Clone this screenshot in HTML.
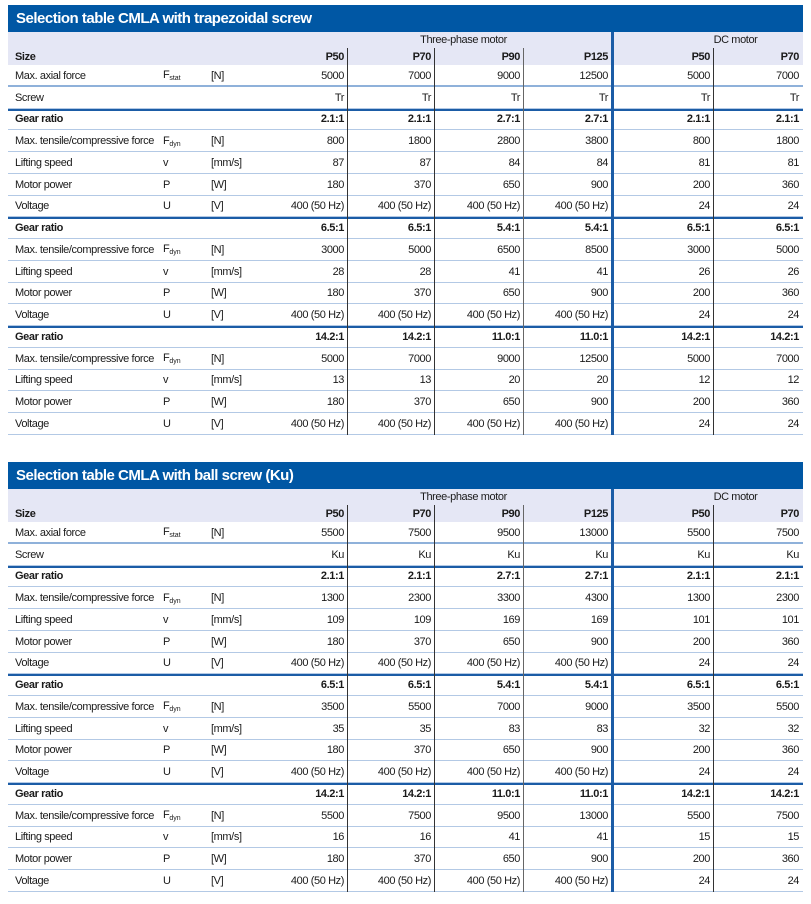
<!DOCTYPE html>
<html><head><meta charset="utf-8"><style>
body{margin:0;width:811px;height:904px;background:#fff;position:relative;overflow:hidden;font-family:"Liberation Sans",sans-serif;color:#1a1a1a}
.wrap{position:absolute;left:8px;width:795px}
.title{height:27px;background:#0057a4;color:#fff;font-weight:bold;font-size:15px;letter-spacing:-0.5px;line-height:27px;padding-left:8px;box-sizing:border-box}
table{border-collapse:separate;border-spacing:0;table-layout:fixed;width:795px;font-size:11px;letter-spacing:-0.4px}
td{height:21.76px;padding:0;white-space:nowrap;box-shadow:inset 0 -1px #b3c9e5;vertical-align:middle;overflow:hidden}
td.n{text-align:right;padding-right:4px}
td.l{padding-left:7px}
tr.h td{background:#e5e7f5;box-shadow:none}
tr.h1 td{height:16px;vertical-align:middle}
tr.h2 td{height:17px;font-weight:bold}
tr.ax td{box-shadow:inset 0 -2px #8fb1da}
tr.g td{font-weight:bold;box-shadow:inset 0 2px #1b5ca6,inset 0 -1px #b3c9e5}
sub{font-size:7px;vertical-align:-2px;letter-spacing:0}
.v{position:absolute;width:1px;background:#333}
.vb{position:absolute;width:3px;background:#1b5ca6}
</style></head><body>

<div class="wrap" style="top:5px">
<div class="title">Selection table CMLA with trapezoidal screw</div>
<table>
<colgroup><col style="width:155px"><col style="width:48px"><col style="width:48px"><col style="width:89px"><col style="width:87px"><col style="width:89px"><col style="width:88px"><col style="width:102px"><col style="width:89px"></colgroup>
<tr class="h h1"><td></td><td></td><td></td><td colspan="4" style="text-align:center;padding-left:56px">Three-phase motor</td><td colspan="2" style="text-align:center;padding-left:56px">DC motor</td></tr>
<tr class="h h2"><td class="l">Size</td><td></td><td></td><td class="n">P50</td><td class="n">P70</td><td class="n">P90</td><td class="n">P125</td><td class="n">P50</td><td class="n">P70</td></tr>
<tr class="ax"><td class="l">Max. axial force</td><td>F<sub>stat</sub></td><td>[N]</td><td class="n">5000</td><td class="n">7000</td><td class="n">9000</td><td class="n">12500</td><td class="n">5000</td><td class="n">7000</td></tr>
<tr><td class="l">Screw</td><td></td><td></td><td class="n">Tr</td><td class="n">Tr</td><td class="n">Tr</td><td class="n">Tr</td><td class="n">Tr</td><td class="n">Tr</td></tr>
<tr class="g"><td class="l">Gear ratio</td><td></td><td></td><td class="n">2.1:1</td><td class="n">2.1:1</td><td class="n">2.7:1</td><td class="n">2.7:1</td><td class="n">2.1:1</td><td class="n">2.1:1</td></tr>
<tr><td class="l">Max. tensile/compressive force</td><td>F<sub>dyn</sub></td><td>[N]</td><td class="n">800</td><td class="n">1800</td><td class="n">2800</td><td class="n">3800</td><td class="n">800</td><td class="n">1800</td></tr>
<tr><td class="l">Lifting speed</td><td>v</td><td>[mm/s]</td><td class="n">87</td><td class="n">87</td><td class="n">84</td><td class="n">84</td><td class="n">81</td><td class="n">81</td></tr>
<tr><td class="l">Motor power</td><td>P</td><td>[W]</td><td class="n">180</td><td class="n">370</td><td class="n">650</td><td class="n">900</td><td class="n">200</td><td class="n">360</td></tr>
<tr><td class="l">Voltage</td><td>U</td><td>[V]</td><td class="n">400 (50 Hz)</td><td class="n">400 (50 Hz)</td><td class="n">400 (50 Hz)</td><td class="n">400 (50 Hz)</td><td class="n">24</td><td class="n">24</td></tr>
<tr class="g"><td class="l">Gear ratio</td><td></td><td></td><td class="n">6.5:1</td><td class="n">6.5:1</td><td class="n">5.4:1</td><td class="n">5.4:1</td><td class="n">6.5:1</td><td class="n">6.5:1</td></tr>
<tr><td class="l">Max. tensile/compressive force</td><td>F<sub>dyn</sub></td><td>[N]</td><td class="n">3000</td><td class="n">5000</td><td class="n">6500</td><td class="n">8500</td><td class="n">3000</td><td class="n">5000</td></tr>
<tr><td class="l">Lifting speed</td><td>v</td><td>[mm/s]</td><td class="n">28</td><td class="n">28</td><td class="n">41</td><td class="n">41</td><td class="n">26</td><td class="n">26</td></tr>
<tr><td class="l">Motor power</td><td>P</td><td>[W]</td><td class="n">180</td><td class="n">370</td><td class="n">650</td><td class="n">900</td><td class="n">200</td><td class="n">360</td></tr>
<tr><td class="l">Voltage</td><td>U</td><td>[V]</td><td class="n">400 (50 Hz)</td><td class="n">400 (50 Hz)</td><td class="n">400 (50 Hz)</td><td class="n">400 (50 Hz)</td><td class="n">24</td><td class="n">24</td></tr>
<tr class="g"><td class="l">Gear ratio</td><td></td><td></td><td class="n">14.2:1</td><td class="n">14.2:1</td><td class="n">11.0:1</td><td class="n">11.0:1</td><td class="n">14.2:1</td><td class="n">14.2:1</td></tr>
<tr><td class="l">Max. tensile/compressive force</td><td>F<sub>dyn</sub></td><td>[N]</td><td class="n">5000</td><td class="n">7000</td><td class="n">9000</td><td class="n">12500</td><td class="n">5000</td><td class="n">7000</td></tr>
<tr><td class="l">Lifting speed</td><td>v</td><td>[mm/s]</td><td class="n">13</td><td class="n">13</td><td class="n">20</td><td class="n">20</td><td class="n">12</td><td class="n">12</td></tr>
<tr><td class="l">Motor power</td><td>P</td><td>[W]</td><td class="n">180</td><td class="n">370</td><td class="n">650</td><td class="n">900</td><td class="n">200</td><td class="n">360</td></tr>
<tr><td class="l">Voltage</td><td>U</td><td>[V]</td><td class="n">400 (50 Hz)</td><td class="n">400 (50 Hz)</td><td class="n">400 (50 Hz)</td><td class="n">400 (50 Hz)</td><td class="n">24</td><td class="n">24</td></tr>
</table>
<div class="v" style="left:339px;top:43px;height:387px"></div>
<div class="v" style="left:426px;top:43px;height:387px"></div>
<div class="v" style="left:515px;top:43px;height:387px;background:#666"></div>
<div class="vb" style="left:603px;top:27px;height:403px"></div>
<div class="v" style="left:705px;top:43px;height:387px"></div>
</div>

<div class="wrap" style="top:462px">
<div class="title">Selection table CMLA with ball screw (Ku)</div>
<table>
<colgroup><col style="width:155px"><col style="width:48px"><col style="width:48px"><col style="width:89px"><col style="width:87px"><col style="width:89px"><col style="width:88px"><col style="width:102px"><col style="width:89px"></colgroup>
<tr class="h h1"><td></td><td></td><td></td><td colspan="4" style="text-align:center;padding-left:56px">Three-phase motor</td><td colspan="2" style="text-align:center;padding-left:56px">DC motor</td></tr>
<tr class="h h2"><td class="l">Size</td><td></td><td></td><td class="n">P50</td><td class="n">P70</td><td class="n">P90</td><td class="n">P125</td><td class="n">P50</td><td class="n">P70</td></tr>
<tr class="ax"><td class="l">Max. axial force</td><td>F<sub>stat</sub></td><td>[N]</td><td class="n">5500</td><td class="n">7500</td><td class="n">9500</td><td class="n">13000</td><td class="n">5500</td><td class="n">7500</td></tr>
<tr><td class="l">Screw</td><td></td><td></td><td class="n">Ku</td><td class="n">Ku</td><td class="n">Ku</td><td class="n">Ku</td><td class="n">Ku</td><td class="n">Ku</td></tr>
<tr class="g"><td class="l">Gear ratio</td><td></td><td></td><td class="n">2.1:1</td><td class="n">2.1:1</td><td class="n">2.7:1</td><td class="n">2.7:1</td><td class="n">2.1:1</td><td class="n">2.1:1</td></tr>
<tr><td class="l">Max. tensile/compressive force</td><td>F<sub>dyn</sub></td><td>[N]</td><td class="n">1300</td><td class="n">2300</td><td class="n">3300</td><td class="n">4300</td><td class="n">1300</td><td class="n">2300</td></tr>
<tr><td class="l">Lifting speed</td><td>v</td><td>[mm/s]</td><td class="n">109</td><td class="n">109</td><td class="n">169</td><td class="n">169</td><td class="n">101</td><td class="n">101</td></tr>
<tr><td class="l">Motor power</td><td>P</td><td>[W]</td><td class="n">180</td><td class="n">370</td><td class="n">650</td><td class="n">900</td><td class="n">200</td><td class="n">360</td></tr>
<tr><td class="l">Voltage</td><td>U</td><td>[V]</td><td class="n">400 (50 Hz)</td><td class="n">400 (50 Hz)</td><td class="n">400 (50 Hz)</td><td class="n">400 (50 Hz)</td><td class="n">24</td><td class="n">24</td></tr>
<tr class="g"><td class="l">Gear ratio</td><td></td><td></td><td class="n">6.5:1</td><td class="n">6.5:1</td><td class="n">5.4:1</td><td class="n">5.4:1</td><td class="n">6.5:1</td><td class="n">6.5:1</td></tr>
<tr><td class="l">Max. tensile/compressive force</td><td>F<sub>dyn</sub></td><td>[N]</td><td class="n">3500</td><td class="n">5500</td><td class="n">7000</td><td class="n">9000</td><td class="n">3500</td><td class="n">5500</td></tr>
<tr><td class="l">Lifting speed</td><td>v</td><td>[mm/s]</td><td class="n">35</td><td class="n">35</td><td class="n">83</td><td class="n">83</td><td class="n">32</td><td class="n">32</td></tr>
<tr><td class="l">Motor power</td><td>P</td><td>[W]</td><td class="n">180</td><td class="n">370</td><td class="n">650</td><td class="n">900</td><td class="n">200</td><td class="n">360</td></tr>
<tr><td class="l">Voltage</td><td>U</td><td>[V]</td><td class="n">400 (50 Hz)</td><td class="n">400 (50 Hz)</td><td class="n">400 (50 Hz)</td><td class="n">400 (50 Hz)</td><td class="n">24</td><td class="n">24</td></tr>
<tr class="g"><td class="l">Gear ratio</td><td></td><td></td><td class="n">14.2:1</td><td class="n">14.2:1</td><td class="n">11.0:1</td><td class="n">11.0:1</td><td class="n">14.2:1</td><td class="n">14.2:1</td></tr>
<tr><td class="l">Max. tensile/compressive force</td><td>F<sub>dyn</sub></td><td>[N]</td><td class="n">5500</td><td class="n">7500</td><td class="n">9500</td><td class="n">13000</td><td class="n">5500</td><td class="n">7500</td></tr>
<tr><td class="l">Lifting speed</td><td>v</td><td>[mm/s]</td><td class="n">16</td><td class="n">16</td><td class="n">41</td><td class="n">41</td><td class="n">15</td><td class="n">15</td></tr>
<tr><td class="l">Motor power</td><td>P</td><td>[W]</td><td class="n">180</td><td class="n">370</td><td class="n">650</td><td class="n">900</td><td class="n">200</td><td class="n">360</td></tr>
<tr><td class="l">Voltage</td><td>U</td><td>[V]</td><td class="n">400 (50 Hz)</td><td class="n">400 (50 Hz)</td><td class="n">400 (50 Hz)</td><td class="n">400 (50 Hz)</td><td class="n">24</td><td class="n">24</td></tr>
</table>
<div class="v" style="left:339px;top:43px;height:387px"></div>
<div class="v" style="left:426px;top:43px;height:387px"></div>
<div class="v" style="left:515px;top:43px;height:387px;background:#666"></div>
<div class="vb" style="left:603px;top:27px;height:403px"></div>
<div class="v" style="left:705px;top:43px;height:387px"></div>
</div>
</body></html>
